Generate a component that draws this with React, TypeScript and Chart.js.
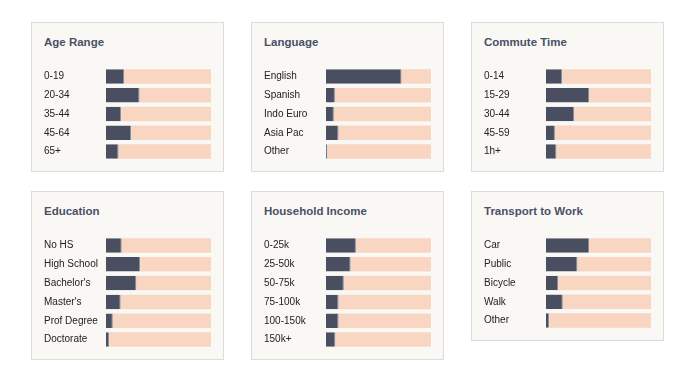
import React, { useEffect, useRef } from "react";
import { Chart, registerables } from "chart.js";

Chart.register(...registerables);

const ageLabels = ["0-19", "20-34", "35-44", "45-64", "65+"];
const ageValues = [17.5, 32, 14.5, 24, 12];

const languageLabels = ["English", "Spanish", "Indo Euro", "Asia Pac", "Other"];
const languageValues = [72, 8.5, 7.5, 12, 1.3];

const commuteLabels = ["0-14", "15-29", "30-44", "45-59", "1h+"];
const commuteValues = [15.5, 41, 27, 8.5, 10];

const educationLabels = ["No HS", "High School", "Bachelor's", "Master's", "Prof Degree", "Doctorate"];
const educationValues = [15, 32.5, 29, 14, 6.5, 3];

const incomeLabels = ["0-25k", "25-50k", "50-75k", "75-100k", "100-150k", "150k+"];
const incomeValues = [28.5, 23.5, 17, 12, 12, 9];

const transportLabels = ["Car", "Public", "Bicycle", "Walk", "Other"];
const transportValues = [41, 30, 11.5, 16, 3];

const panels = [
  { title: "Age Range", labels: ageLabels, values: ageValues },
  { title: "Language", labels: languageLabels, values: languageValues },
  { title: "Commute Time", labels: commuteLabels, values: commuteValues },
  { title: "Education", labels: educationLabels, values: educationValues },
  { title: "Household Income", labels: incomeLabels, values: incomeValues },
  { title: "Transport to Work", labels: transportLabels, values: transportValues },
];

const DARK = "#4a4e61";
const PEACH = "#f9d6c1";
const ROW = 18.8;
const FONT = "'Liberation Sans', Arial, Helvetica, sans-serif";

function Panel({ title, labels, values }: { title: string; labels: string[]; values: number[] }) {
  const ref = useRef<HTMLCanvasElement | null>(null);
  const h = Math.round(labels.length * ROW) + 12;
  useEffect(() => {
    if (!ref.current) return;
    const chart = new Chart(ref.current, {
      type: "bar",
      data: {
        labels,
        datasets: [
          {
            data: values,
            backgroundColor: DARK,
            borderColor: "#85889a",
            borderWidth: { top: 0, bottom: 0, left: 0, right: 1 },
            borderSkipped: false,
            barPercentage: 0.77,
            categoryPercentage: 1,
          },
          {
            data: values.map((v) => 100 - v),
            backgroundColor: PEACH,
            borderWidth: 0,
            barPercentage: 0.77,
            categoryPercentage: 1,
          },
        ],
      },
      options: {
        indexAxis: "y",
        responsive: false,
        animation: false,
        events: [],
        layout: { padding: 0 },
        plugins: { legend: { display: false }, tooltip: { enabled: false }, title: { display: false } },
        scales: {
          x: { stacked: true, min: 0, max: 100, display: false },
          y: {
            stacked: true,
            grid: { display: false, drawTicks: false },
            border: { display: false },
            ticks: {
              crossAlign: "far",
              padding: 0,
              color: "#222222",
              font: { family: FONT, size: 10 },
            },
            afterFit: (axis: any) => {
              axis.width = 62;
            },
          },
        },
      },
    } as any);
    return () => chart.destroy();
  }, []);
  return (
    <div
      style={{
        boxSizing: "border-box",
        width: 193,
        border: "1px solid #dcdcda",
        background: "#f9f8f4",
        padding: "12px 12px 4px 12px",
      }}
    >
      <div
        style={{
          fontFamily: FONT,
          fontWeight: "bold",
          fontSize: 11.5,
          lineHeight: "14px",
          color: "#4a5068",
          marginBottom: 12,
          whiteSpace: "nowrap",
        }}
      >
        {title}
      </div>
      <canvas ref={ref} width={167} height={h} style={{ display: "block", width: 167, height: h }} />
    </div>
  );
}

export default function App() {
  return (
    <div style={{ paddingLeft: 23, paddingTop: 14 }}>
      <div
        style={{
          display: "flex",
          flexWrap: "wrap",
          width: 633,
          columnGap: 27,
          rowGap: 19,
          alignItems: "flex-start",
        }}
      >
        {panels.map((p) => (
          <Panel key={p.title} title={p.title} labels={p.labels} values={p.values} />
        ))}
      </div>
    </div>
  );
}
